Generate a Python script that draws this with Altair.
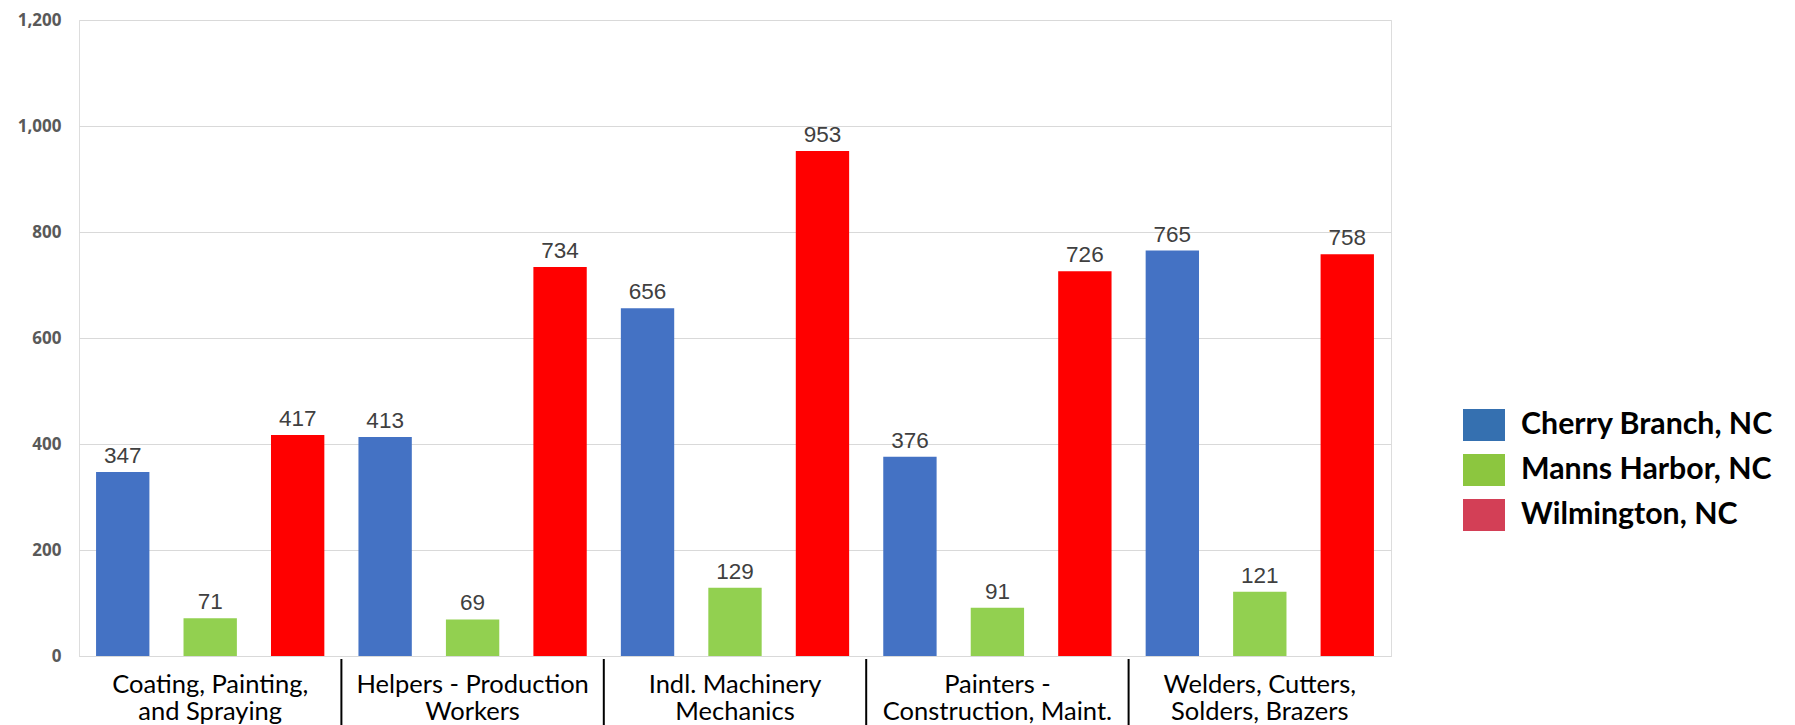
import altair as alt
import pandas as pd

# Occupations (categories) and the three port locations (series)
categories = [
    "Coating, Painting,\nand Spraying",
    "Helpers - Production\nWorkers",
    "Indl. Machinery\nMechanics",
    "Painters -\nConstruction, Maint.",
    "Welders, Cutters,\nSolders, Brazers",
]
series = ["Cherry Branch, NC", "Manns Harbor, NC", "Wilmington, NC"]

cherry_branch = [347, 413, 656, 376, 765]
manns_harbor = [71, 69, 129, 91, 121]
wilmington = [417, 734, 953, 726, 758]

bar_colors = ["#4472C4", "#92D050", "#FF0000"]
legend_colors = ["#3570B0", "#8CC63F", "#D33F56"]

rows = []
for name, values in zip(series, [cherry_branch, manns_harbor, wilmington]):
    for cat, v in zip(categories, values):
        rows.append({"category": cat, "series": name, "value": v})
df = pd.DataFrame(rows)

x_enc = alt.X(
    "category:N",
    sort=categories,
    scale=alt.Scale(paddingInner=0, paddingOuter=0),
    axis=alt.Axis(
        title=None,
        labelAngle=0,
        labelExpr="split(datum.value, '\\n')",
        labelFont="Lato",
        labelFontSize=25.5,
        labelColor="#000000",
        labelLineHeight=27,
        labelPadding=16,
        labelBaseline="top",
        labelLimit=400,
        domainColor="#D9D9D9",
        domainWidth=1,
        ticks=False,
    ),
)
xoff_enc = alt.XOffset(
    "series:N",
    sort=series,
    scale=alt.Scale(paddingInner=0.39, paddingOuter=0.195),
)
y_enc = alt.Y(
    "value:Q",
    scale=alt.Scale(domain=[0, 1200], nice=False),
    axis=alt.Axis(
        title=None,
        values=[0, 200, 400, 600, 800, 1000, 1200],
        labelExpr="format(datum.value, ',.0f')",
        domain=False,
        ticks=False,
        grid=True,
        gridColor="#D9D9D9",
        labelFont="Open Sans",
        labelFontWeight="bold",
        labelFontSize=17,
        labelColor="#595959",
        labelPadding=18,
    ),
)

base = alt.Chart(df)

bars = base.mark_bar().encode(
    x=x_enc,
    xOffset=xoff_enc,
    y=y_enc,
    fill=alt.Fill("series:N", sort=series,
                  scale=alt.Scale(domain=series, range=bar_colors), legend=None),
)

labels = base.mark_text(
    baseline="alphabetic", dy=-9, font="Liberation Sans", fontSize=22.5, color="#404040"
).encode(
    x=alt.X("category:N", sort=categories),
    xOffset=alt.XOffset("series:N", sort=series),
    y="value:Q",
    text=alt.Text("value:Q"),
)

# Black separators between occupation groups, under the axis
dividers = alt.Chart(pd.DataFrame({"category": categories[1:]})).mark_rule(
    color="#000000", strokeWidth=2
).encode(
    x=alt.X("category:N", sort=categories, bandPosition=0),
    y=alt.value(639),
    y2=alt.value(710),
)

# Legend carried by an invisible layer so swatches use their own palette
legend_layer = alt.Chart(pd.DataFrame({"series": series})).mark_square(
    size=0, opacity=0, filled=True
).encode(
    color=alt.Color(
        "series:N",
        sort=series,
        scale=alt.Scale(domain=series, range=legend_colors),
        legend=alt.Legend(
            title=None,
            orient="none",
            legendX=1389,
            legendY=389,
            symbolType="M-1.3125,-1H1.3125V1H-1.3125Z",
            symbolSize=1024,
            symbolOpacity=1,
            symbolStrokeWidth=0,
            labelFont="Lato",
            labelFontWeight="bold",
            labelFontSize=30.3,
            labelColor="#000000",
            labelOffset=21,
            rowPadding=13,
            labelLimit=400,
        ),
    ),
)

chart = (
    alt.layer(bars, labels, dividers, legend_layer)
    .resolve_scale(color="independent")
    .properties(
        width=1312,
        height=636,
        autosize=alt.AutoSizeParams(type="none"),
        padding={"left": 79, "top": 20, "right": 404, "bottom": 69},
    )
    .configure_view(stroke=None)
    .configure(background="#FFFFFF")
)

chart.save("out.html", embed_options={"renderer": "svg", "actions": False})
